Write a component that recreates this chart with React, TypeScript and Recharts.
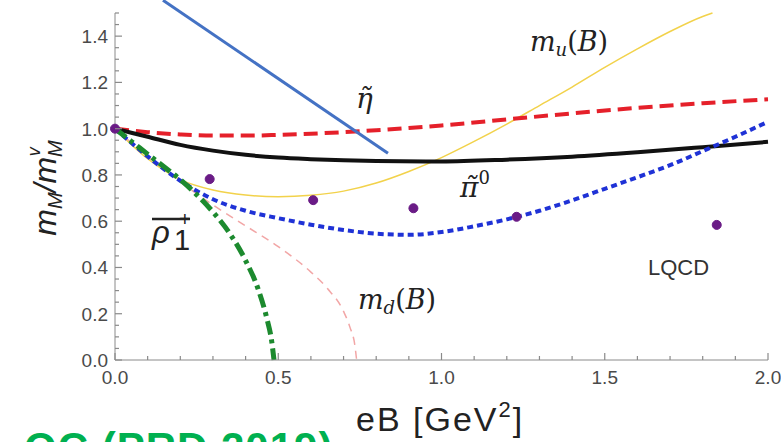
import { LineChart, Line, XAxis, YAxis, ReferenceLine } from 'recharts';

// eB values run 0..2 GeV^2, ratio m_M / m_M^v runs 0..1.5
const xMajor = [0, 0.5, 1, 1.5, 2];
const xMinor = [0, 0.1, 0.2, 0.3, 0.4, 0.5, 0.6, 0.7, 0.8, 0.9, 1, 1.1, 1.2, 1.3, 1.4, 1.5, 1.6, 1.7, 1.8, 1.9, 2];
const yMajor = [0, 0.2, 0.4, 0.6, 0.8, 1, 1.2, 1.4];
const yMinor = [
  0, 0.05, 0.1, 0.15, 0.2, 0.25, 0.3, 0.35, 0.4, 0.45, 0.5, 0.55, 0.6, 0.65, 0.7, 0.75,
  0.8, 0.85, 0.9, 0.95, 1, 1.05, 1.1, 1.15, 1.2, 1.25, 1.3, 1.35, 1.4, 1.45, 1.5,
];

// eta tilde (red dashed)
const etaCurve = [
  { x: 0, y: 1.0 }, { x: 0.1, y: 0.985 }, { x: 0.2, y: 0.975 }, { x: 0.3, y: 0.97 },
  { x: 0.4, y: 0.97 }, { x: 0.5, y: 0.973 }, { x: 0.6, y: 0.978 }, { x: 0.7, y: 0.985 },
  { x: 0.8, y: 0.993 }, { x: 0.9, y: 1.003 }, { x: 1.0, y: 1.014 }, { x: 1.2, y: 1.04 },
  { x: 1.4, y: 1.066 }, { x: 1.6, y: 1.09 }, { x: 1.8, y: 1.11 }, { x: 2.0, y: 1.127 },
];

// black solid
const blackCurve = [
  { x: 0, y: 1.0 }, { x: 0.1, y: 0.965 }, { x: 0.2, y: 0.93 }, { x: 0.3, y: 0.905 },
  { x: 0.4, y: 0.887 }, { x: 0.5, y: 0.875 }, { x: 0.6, y: 0.868 }, { x: 0.7, y: 0.863 },
  { x: 0.8, y: 0.86 }, { x: 1.0, y: 0.858 }, { x: 1.2, y: 0.866 }, { x: 1.4, y: 0.879 },
  { x: 1.6, y: 0.898 }, { x: 1.8, y: 0.92 }, { x: 2.0, y: 0.943 },
];

// pi0 tilde (blue dotted)
const pionCurve = [
  { x: 0, y: 1.0 }, { x: 0.1, y: 0.88 }, { x: 0.2, y: 0.775 }, { x: 0.3, y: 0.695 },
  { x: 0.4, y: 0.645 }, { x: 0.5, y: 0.613 }, { x: 0.6, y: 0.585 }, { x: 0.7, y: 0.562 },
  { x: 0.8, y: 0.546 }, { x: 0.9, y: 0.541 }, { x: 1.0, y: 0.553 }, { x: 1.1, y: 0.578 },
  { x: 1.2, y: 0.608 }, { x: 1.3, y: 0.645 }, { x: 1.4, y: 0.69 }, { x: 1.5, y: 0.74 },
  { x: 1.6, y: 0.79 }, { x: 1.7, y: 0.842 }, { x: 1.8, y: 0.903 }, { x: 1.9, y: 0.965 },
  { x: 2.0, y: 1.03 },
];

// m_u(B) (thin yellow)
const muCurve = [
  { x: 0, y: 1.0 }, { x: 0.1, y: 0.87 }, { x: 0.2, y: 0.78 }, { x: 0.3, y: 0.735 },
  { x: 0.4, y: 0.713 }, { x: 0.5, y: 0.706 }, { x: 0.6, y: 0.712 }, { x: 0.7, y: 0.73 },
  { x: 0.8, y: 0.765 }, { x: 0.9, y: 0.815 }, { x: 1.0, y: 0.875 }, { x: 1.1, y: 0.945 },
  { x: 1.2, y: 1.02 }, { x: 1.3, y: 1.1 }, { x: 1.4, y: 1.18 }, { x: 1.5, y: 1.265 },
  { x: 1.6, y: 1.345 }, { x: 1.7, y: 1.42 }, { x: 1.8, y: 1.485 }, { x: 1.83, y: 1.5 },
];

// m_d(B) (thin pink dashed)
const mdCurve = [
  { x: 0, y: 1.0 }, { x: 0.1, y: 0.88 }, { x: 0.2, y: 0.77 }, { x: 0.3, y: 0.67 },
  { x: 0.4, y: 0.58 }, { x: 0.5, y: 0.49 }, { x: 0.6, y: 0.38 }, { x: 0.65, y: 0.31 },
  { x: 0.7, y: 0.21 }, { x: 0.72, y: 0.14 }, { x: 0.735, y: 0.06 }, { x: 0.74, y: 0.0 },
];

// rho1+ bar (green dash-dot)
const rhoCurve = [
  { x: 0, y: 1.0 }, { x: 0.05, y: 0.945 }, { x: 0.1, y: 0.89 }, { x: 0.15, y: 0.835 },
  { x: 0.2, y: 0.78 }, { x: 0.25, y: 0.715 }, { x: 0.3, y: 0.64 }, { x: 0.35, y: 0.55 },
  { x: 0.4, y: 0.43 }, { x: 0.44, y: 0.3 }, { x: 0.465, y: 0.18 }, { x: 0.48, y: 0.08 },
  { x: 0.487, y: 0.0 },
];

// lattice QCD points
const lqcdPoints = [
  { x: 0, y: 1.0 }, { x: 0.29, y: 0.782 }, { x: 0.607, y: 0.691 }, { x: 0.914, y: 0.656 },
  { x: 1.23, y: 0.619 }, { x: 1.843, y: 0.584 },
];

// blue pointer line drawn over the plot
const pointerSegment = [{ x: 0.147, y: 1.555 }, { x: 0.836, y: 0.894 }];

const AXIS = '#8a8a8a';
const TICK_TEXT = '#4a4a4a';
const SANS = '"Liberation Sans", Arial, sans-serif';
const SERIF = '"DejaVu Serif", "Liberation Serif", serif';

function BottomTick({ x, y, payload }: any) {
  const major = xMajor.includes(payload.value);
  return (
    <g>
      <line x1={x} x2={x} y1={y} y2={y - (major ? 7 : 4)} stroke={AXIS} strokeWidth={1.2} />
      {major && (
        <text x={x} y={y + 24} textAnchor="middle" fill={TICK_TEXT} fontSize={19} fontFamily={SANS}>
          {payload.value.toFixed(1)}
        </text>
      )}
    </g>
  );
}

function LeftTick({ x, y, payload }: any) {
  const major = yMajor.includes(payload.value);
  return (
    <g>
      <line x1={x} x2={x + (major ? 7 : 4)} y1={y} y2={y} stroke={AXIS} strokeWidth={1.2} />
      {major && (
        <text x={x - 7} y={y + 7} textAnchor="end" fill={TICK_TEXT} fontSize={19} fontFamily={SANS}>
          {payload.value.toFixed(1)}
        </text>
      )}
    </g>
  );
}

function RightTick({ x, y, payload }: any) {
  const major = yMajor.includes(payload.value);
  return <line x1={x} x2={x - (major ? 7 : 4)} y1={y} y2={y} stroke={AXIS} strokeWidth={1.2} />;
}

export default function App() {
  return (
    <div style={{ position: 'absolute', left: 0, top: 0, width: 781, height: 442, overflow: 'hidden', background: '#fff' }}>
      <LineChart width={781} height={442} margin={{ top: 13, right: 13, left: 0, bottom: 0 }}>
        <XAxis
          type="number" dataKey="x" domain={[0, 2]} ticks={xMinor} interval={0} height={82}
          tickSize={0} tickMargin={0} tick={BottomTick} axisLine={{ stroke: AXIS }}
        />
        <XAxis xAxisId="top" orientation="top" type="number" dataKey="x" domain={[0, 2]} height={0} tick={false} tickLine={false} axisLine={{ stroke: AXIS }} />
        <YAxis
          type="number" dataKey="y" domain={[0, 1.5]} ticks={yMinor} interval={0} width={115}
          tickSize={0} tickMargin={0} tick={LeftTick} axisLine={{ stroke: AXIS }}
        />
        <YAxis
          yAxisId="right" orientation="right" type="number" dataKey="y" domain={[0, 1.5]} ticks={yMinor} interval={0} width={0}
          tickSize={0} tickMargin={0} tick={RightTick} axisLine={{ stroke: AXIS }}
        />
        <Line data={muCurve} dataKey="y" type="monotone" stroke="#f2d24b" strokeWidth={1.5} dot={false} isAnimationActive={false} />
        <Line data={mdCurve} dataKey="y" type="monotone" stroke="#f2a6a6" strokeWidth={1.5} strokeDasharray="8 6" dot={false} isAnimationActive={false} />
        <Line data={etaCurve} dataKey="y" type="monotone" stroke="#e5202a" strokeWidth={4} strokeDasharray="14 7" dot={false} isAnimationActive={false} />
        <Line data={blackCurve} dataKey="y" type="monotone" stroke="#111" strokeWidth={4} dot={false} isAnimationActive={false} />
        <Line data={pionCurve} dataKey="y" type="monotone" stroke="#1f32d6" strokeWidth={4} strokeDasharray="6 4" dot={false} isAnimationActive={false} />
        <Line data={rhoCurve} dataKey="y" type="monotone" stroke="#1c8a2e" strokeWidth={5} strokeDasharray="14 5 4 5" dot={false} isAnimationActive={false} />
        <Line
          data={lqcdPoints} dataKey="y" stroke="none" isAnimationActive={false}
          dot={{ r: 4.5, fill: '#6a1b86', stroke: '#6a1b86', strokeWidth: 1 }}
        />
        <ReferenceLine segment={pointerSegment} ifOverflow="visible" stroke="#4472c4" strokeWidth={3} />
      </LineChart>
      <svg width={781} height={442} style={{ position: 'absolute', left: 0, top: 0, pointerEvents: 'none' }}>
        <text x={530} y={51} fontFamily={SERIF} fontSize={27} fill="#222">
          <tspan fontStyle="italic">m</tspan>
          <tspan fontStyle="italic" fontSize={18} dy={5}>u</tspan>
          <tspan dy={-5}>(</tspan>
          <tspan fontStyle="italic">B</tspan>
          <tspan>)</tspan>
        </text>
        <text x={356} y={108} fontFamily={SERIF} fontSize={28} fontStyle="italic" fill="#222">{'\u03B7\u0303'}</text>
        <text x={460} y={197} fontFamily={SERIF} fontSize={28} fontStyle="italic" fill="#222">
          {'\u03C0\u0303'}
          <tspan fontStyle="normal" fontSize={18} dy={-13}>0</tspan>
        </text>
        <line x1={152} x2={190} y1={219} y2={219} stroke="#222" strokeWidth={2.5} />
        <text x={152} y={243} fontFamily={SANS} fontSize={31} fontStyle="italic" fill="#222">{'\u03C1'}</text>
        <text x={174} y={250} fontFamily={SANS} fontSize={29} fill="#222">1</text>
        <text x={179} y={226} fontFamily={SANS} fontSize={20} fill="#222">+</text>
        <text x={648} y={275} fontFamily={SANS} fontSize={22} fill="#333">LQCD</text>
        <text x={358} y={309} fontFamily={SERIF} fontSize={27} fill="#222">
          <tspan fontStyle="italic">m</tspan>
          <tspan fontStyle="italic" fontSize={18} dy={5}>d</tspan>
          <tspan dy={-5}>(</tspan>
          <tspan fontStyle="italic">B</tspan>
          <tspan>)</tspan>
        </text>
        <text x={356} y={431} fontFamily={SANS} fontSize={34} fill="#222" letterSpacing={2}>
          eB [GeV<tspan fontSize={22} dy={-14}>2</tspan><tspan dy={14}>]</tspan>
        </text>
        <text transform="translate(56 188) rotate(-90)" textAnchor="middle" fontFamily={SANS} fontSize={32} fontStyle="italic" fill="#222">
          m<tspan fontSize={20} dy={6}>M</tspan><tspan dy={-6}>/m</tspan><tspan fontSize={20} dy={6}>M</tspan><tspan fontSize={18} dx={-16} dy={-22}>v</tspan>
        </text>
        <text x={24} y={462} fontFamily={SANS} fontSize={42} fontWeight="bold" fill="#00b050" letterSpacing={1}>QC (PRD 2019)</text>
      </svg>
    </div>
  );
}
